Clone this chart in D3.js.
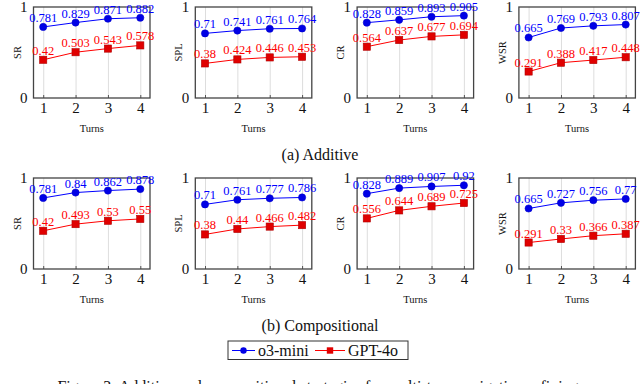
<!DOCTYPE html>
<html>
<head>
<meta charset="utf-8">
<script src="https://cdn.jsdelivr.net/npm/d3@7"></script>
<style>
  body { margin: 0; background: #fff; }
  svg text { font-family: "Liberation Serif", "DejaVu Serif", serif; }
</style>
</head>
<body>
<svg width="640" height="384"></svg>
<script>
// turns on the x axis
const turns = [1, 2, 3, 4];
const metrics = ["SR", "SPL", "CR", "WSR"];
const models = ["o3-mini", "GPT-4o"];

// (a) Additive
const additiveO3 = [
  [0.781, 0.829, 0.871, 0.882],
  [0.71, 0.741, 0.761, 0.764],
  [0.828, 0.859, 0.893, 0.905],
  [0.665, 0.769, 0.793, 0.807]
];
const additiveGpt = [
  [0.42, 0.503, 0.543, 0.578],
  [0.38, 0.424, 0.446, 0.453],
  [0.564, 0.637, 0.677, 0.694],
  [0.291, 0.388, 0.417, 0.448]
];

// (b) Compositional
const compO3 = [
  [0.781, 0.84, 0.862, 0.878],
  [0.71, 0.761, 0.777, 0.786],
  [0.828, 0.889, 0.907, 0.92],
  [0.665, 0.727, 0.756, 0.77]
];
const compGpt = [
  [0.42, 0.493, 0.53, 0.55],
  [0.38, 0.44, 0.466, 0.482],
  [0.556, 0.644, 0.689, 0.725],
  [0.291, 0.33, 0.366, 0.387]
];

const yTicks = [0, 1];
const captions = ["(a) Additive", "(b) Compositional"];

const blue = "#0000ff", red = "#ff0000";
const serif = "Liberation Serif, DejaVu Serif, serif";
const svg = d3.select("svg").attr("font-family", serif);

const panelW = 116.5, panelH = 91;
const rows = [
  { top: 7, o3: additiveO3, gpt: additiveGpt, caption: captions[0], capY: 160 },
  { top: 178, o3: compO3, gpt: compGpt, caption: captions[1], capY: 331 }
];

let x = d3.scaleLinear().domain([0.7, 4.3]).range([0, panelW]);
let y = d3.scaleLinear().domain([0, 1]).range([panelH, 0]);

rows.forEach(row => {
  metrics.forEach((m, i) => {
    let left = 33.5 + i * 161.8;
    let g = svg.append("g").attr("transform", `translate(${left},${row.top})`);

    // vertical grid
    g.append("g")
      .attr("transform", `translate(0,${panelH})`)
      .call(d3.axisBottom(x).tickValues(turns).tickSize(-panelH).tickFormat(""))
      .call(a => a.select(".domain").remove())
      .selectAll("line").attr("stroke", "#d4d4d4").attr("stroke-width", 0.8);

    // x ticks + labels
    let xa = g.append("g")
      .attr("transform", `translate(0,${panelH})`)
      .call(d3.axisBottom(x).tickValues(turns).tickSize(3).tickPadding(1).tickFormat(d3.format("d")))
      .attr("font-family", serif);
    xa.select(".domain").remove();
    xa.selectAll("line").attr("stroke", "#555").attr("transform", "translate(0,-3)");
    xa.selectAll("text").attr("font-size", 15).attr("fill", "#111");

    // y ticks
    let ya = g.append("g")
      .call(d3.axisLeft(y).tickValues(yTicks).tickSize(0).tickPadding(6).tickFormat(d3.format("d")))
      .attr("font-family", serif);
    ya.select(".domain").remove();
    ya.selectAll("text").attr("font-size", 15).attr("fill", "#111");

    // box
    g.append("rect")
      .attr("width", panelW).attr("height", panelH)
      .attr("fill", "none").attr("stroke", "#444").attr("stroke-width", 1.3);

    // axis labels
    g.append("text")
      .attr("transform", `translate(-13,${panelH / 2}) rotate(-90)`)
      .attr("text-anchor", "middle").attr("font-size", 10.5).attr("fill", "#111")
      .text(m);
    g.append("text")
      .attr("x", panelW / 2).attr("y", panelH + 34)
      .attr("text-anchor", "middle").attr("font-size", 10.5).attr("fill", "#111")
      .text("Turns");

    let line = d3.line().x((d, j) => x(turns[j])).y(d => y(d));

    [[row.o3[i], blue, "circle"], [row.gpt[i], red, "square"]].forEach(([vals, col, shape]) => {
      g.append("path").attr("d", line(vals))
        .attr("fill", "none").attr("stroke", col).attr("stroke-width", 1);
      let pts = g.selectAll(null).data(vals).enter();
      if (shape === "circle") {
        pts.append("circle")
          .attr("cx", (d, j) => x(turns[j])).attr("cy", d => y(d)).attr("r", 3.6)
          .attr("fill", "#0000e6").attr("stroke", "#0000cc").attr("stroke-width", 0.6);
      } else {
        pts.append("rect")
          .attr("x", (d, j) => x(turns[j]) - 3.6).attr("y", d => y(d) - 3.6)
          .attr("width", 7.2).attr("height", 7.2)
          .attr("fill", "#e00000").attr("stroke", "#b00000").attr("stroke-width", 0.6);
      }
      pts.append("text")
        .attr("x", (d, j) => x(turns[j])).attr("y", d => y(d) - 5)
        .attr("text-anchor", "middle").attr("font-size", 12.5).attr("fill", col)
        .text(d => d);
    });
  });

  svg.append("text")
    .attr("x", 320).attr("y", row.capY)
    .attr("text-anchor", "middle").attr("font-size", 16).attr("fill", "#111")
    .text(row.caption);
});

// legend
let lg = svg.append("g").attr("transform", "translate(228,341)");
lg.append("rect").attr("width", 180).attr("height", 18.5)
  .attr("fill", "none").attr("stroke", "#333").attr("stroke-width", 1);
let legendItems = [
  { name: models[0], col: blue, x0: 4, tx: 30 },
  { name: models[1], col: red, x0: 87, tx: 120 }
];
legendItems.forEach((it, k) => {
  let w = k === 0 ? 23 : 30;
  lg.append("line").attr("x1", it.x0).attr("x2", it.x0 + w).attr("y1", 9.5).attr("y2", 9.5)
    .attr("stroke", it.col).attr("stroke-width", 1);
  if (k === 0) {
    lg.append("circle").attr("cx", it.x0 + w / 2).attr("cy", 9.5).attr("r", 3.2).attr("fill", "#0000e6");
  } else {
    lg.append("rect").attr("x", it.x0 + w / 2 - 3.2).attr("y", 6.3).attr("width", 6.4).attr("height", 6.4).attr("fill", "#e00000");
  }
  lg.append("text").attr("x", it.tx).attr("y", 14.5).attr("font-size", 16).attr("fill", "#111").text(it.name);
});

// figure caption (cut off at the bottom)
svg.append("text")
  .attr("x", 320).attr("y", 392)
  .attr("text-anchor", "middle").attr("font-size", 16).attr("fill", "#111")
  .text("Figure 3: Additive and compositional strategies for multi-turn navigation refining.");
</script>
</body>
</html>
